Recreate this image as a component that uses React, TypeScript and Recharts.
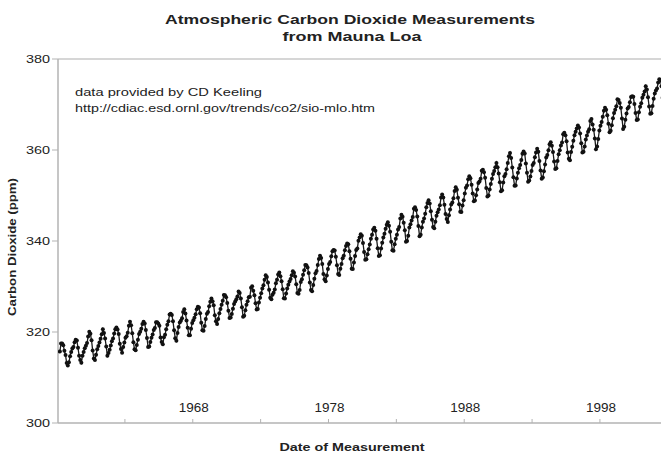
import React from 'react';
import { LineChart, Line, XAxis, YAxis, ReferenceLine } from 'recharts';

const TITLE_LINES = ['Atmospheric Carbon Dioxide Measurements', 'from Mauna Loa'];
const NOTE_LINES = ['data provided by CD Keeling', 'http://cdiac.esd.ornl.gov/trends/co2/sio-mlo.htm'];
const X_LABEL = 'Date of Measurement';
const Y_LABEL = 'Carbon Dioxide (ppm)';
const X_TICKS = [1963, 1968, 1973, 1978, 1983, 1988, 1993, 1998];
const X_TICK_LABELS = [1968, 1978, 1988, 1998];
const Y_TICKS = [300, 320, 340, 360, 380];
const X_DOMAIN: [number, number] = [1958.07, 2002.5];
const Y_DOMAIN: [number, number] = [300, 380];

// monthly values, starting March 1958
const FIRST_YEAR = 1958;
const FIRST_MONTH = 3;
const CO2_PPM = [
  315.71, 317.45, 317.5, 317.1, 315.86, 314.93, 313.2, 312.66, 313.33, 314.67,
  315.62, 316.38, 316.71, 317.72, 318.29, 318.15, 316.54, 314.8, 313.84, 313.26, 314.8, 315.58,
  316.43, 316.97, 317.58, 319.02, 320.03, 319.59, 318.18, 315.91, 314.16, 313.83, 315.0, 316.19,
  316.93, 317.7, 318.54, 319.48, 320.58, 319.77, 318.57, 316.79, 314.8, 315.38, 316.1, 317.01,
  317.94, 318.56, 319.68, 320.63, 321.01, 320.55, 319.58, 317.4, 316.26, 315.42, 316.69, 317.69,
  318.74, 319.08, 319.86, 321.39, 322.25, 321.47, 319.74, 317.77, 316.21, 315.99, 317.12, 318.31,
  319.57, 320.07, 320.73, 321.77, 322.25, 321.89, 320.44, 318.7, 316.7, 316.79, 317.79, 318.71,
  319.44, 320.44, 320.89, 322.13, 322.16, 321.87, 321.39, 318.81, 317.81, 317.3, 318.87, 319.42,
  320.62, 321.59, 322.39, 323.87, 324.01, 323.75, 322.39, 320.37, 318.64, 318.1, 319.79, 321.08,
  322.07, 322.5, 323.04, 324.42, 325.0, 324.09, 322.55, 320.92, 319.31, 319.31, 320.72, 321.96,
  322.57, 323.15, 323.89, 325.02, 325.57, 325.36, 324.14, 322.03, 320.41, 320.25, 321.31, 322.84,
  324.0, 324.42, 325.64, 326.66, 327.34, 326.76, 325.88, 323.67, 322.38, 321.78, 322.85, 324.11,
  325.03, 325.99, 326.87, 328.13, 328.07, 327.66, 326.35, 324.69, 323.1, 323.16, 323.98, 325.13,
  326.17, 326.68, 327.18, 327.78, 328.92, 328.57, 327.34, 325.46, 323.36, 323.57, 324.8, 326.01,
  326.77, 327.63, 327.75, 329.72, 330.07, 329.09, 328.05, 326.32, 324.93, 325.06, 326.5, 327.55,
  328.54, 329.56, 330.3, 331.5, 332.48, 332.07, 330.87, 329.31, 327.51, 327.18, 328.16, 328.64,
  329.35, 330.71, 331.48, 332.65, 333.09, 332.25, 331.18, 329.4, 327.44, 327.37, 328.46, 329.58,
  330.4, 331.11, 331.63, 332.46, 333.36, 333.04, 332.2, 330.49, 328.58, 328.41, 329.25, 330.97,
  331.6, 332.6, 333.57, 334.72, 334.68, 334.17, 332.96, 330.88, 329.23, 328.94, 330.31, 331.68,
  332.93, 333.42, 334.7, 336.07, 336.74, 336.27, 334.93, 332.75, 331.58, 331.16, 332.4, 333.85,
  334.97, 335.39, 336.64, 337.76, 338.01, 337.89, 336.54, 334.68, 332.76, 332.54, 333.92, 334.95,
  336.23, 336.76, 337.96, 338.89, 339.47, 339.29, 337.73, 336.09, 333.91, 333.86, 335.29, 336.73,
  338.01, 338.36, 340.08, 340.77, 341.46, 341.17, 339.56, 337.6, 335.88, 336.01, 337.1, 338.21,
  339.24, 340.48, 341.38, 342.51, 342.91, 342.25, 340.49, 338.43, 336.69, 336.85, 338.36, 339.61,
  340.75, 341.61, 342.7, 343.56, 344.13, 343.35, 342.06, 339.82, 337.97, 337.86, 339.26, 340.49,
  341.38, 342.52, 343.1, 344.94, 345.75, 345.32, 343.99, 342.39, 339.86, 339.99, 341.16, 342.99,
  343.7, 344.51, 345.28, 347.08, 347.43, 346.79, 345.4, 343.28, 341.07, 341.35, 342.98, 344.22,
  344.97, 345.99, 347.42, 348.35, 348.93, 348.25, 346.56, 344.67, 343.09, 342.8, 344.24, 345.56,
  346.3, 346.95, 347.85, 349.55, 350.21, 349.54, 347.94, 345.91, 344.86, 344.17, 345.66, 346.9,
  348.02, 348.47, 349.42, 350.99, 351.84, 351.25, 349.52, 348.1, 346.44, 346.36, 347.81, 348.96,
  350.43, 351.72, 352.22, 353.59, 354.22, 353.79, 352.39, 350.44, 348.72, 348.88, 350.07, 351.34,
  352.76, 353.07, 353.68, 355.42, 355.67, 355.13, 353.9, 351.67, 349.8, 349.99, 351.3, 352.53,
  353.66, 354.7, 355.39, 356.2, 357.16, 356.22, 354.82, 352.91, 350.96, 351.18, 352.83, 354.21,
  354.72, 355.75, 357.16, 358.6, 359.34, 358.24, 356.17, 354.03, 352.16, 352.21, 353.75, 354.99,
  355.98, 356.72, 357.81, 359.15, 359.66, 359.25, 357.03, 355.0, 353.01, 353.31, 354.16, 355.4,
  356.7, 357.16, 358.38, 359.46, 360.28, 359.6, 357.57, 355.52, 353.7, 353.98, 355.33, 356.8,
  358.36, 358.91, 359.97, 361.26, 361.68, 360.95, 359.55, 357.49, 355.84, 355.99, 357.58, 359.04,
  359.96, 361.0, 361.64, 363.45, 363.79, 363.26, 361.9, 359.46, 358.06, 357.75, 359.56, 360.7,
  362.05, 363.25, 364.03, 364.72, 365.41, 364.97, 363.65, 361.49, 359.46, 359.6, 360.76, 362.33,
  363.18, 364.0, 364.57, 366.35, 366.79, 365.62, 364.47, 362.51, 360.19, 360.77, 362.43, 364.28,
  365.32, 366.15, 367.31, 368.61, 369.29, 368.87, 367.64, 365.77, 363.9, 364.23, 365.46, 366.97,
  368.15, 368.87, 369.59, 371.14, 371.0, 370.35, 369.27, 366.94, 364.63, 365.12, 366.67, 368.01,
  369.14, 369.46, 370.52, 371.66, 371.82, 371.7, 370.12, 368.12, 366.62, 366.73, 368.29, 369.53,
  370.28, 371.5, 372.12, 372.87, 374.02, 373.3, 371.62, 369.55, 367.96, 368.09, 369.68, 371.24,
  372.44, 373.08, 373.52, 374.85, 375.55, 375.4, 374.02, 371.49, 370.71, 370.25, 372.08, 373.78,
];

const data = CO2_PPM.map((v, i) => ({
  date: FIRST_YEAR + (FIRST_MONTH - 1 + i + 0.5) / 12,
  co2: v,
}));

const FONT = '"Liberation Sans", Arial, Helvetica, sans-serif';
const AXIS_GRAY = '#b3b3b3';
const TEXT = '#222';

const XTick = (props: any) => {
  const { x, y, payload } = props;
  const show = X_TICK_LABELS.includes(payload.value);
  return (
    <g>
      <line x1={x} x2={x} y1={y} y2={y - 4} stroke={AXIS_GRAY} strokeWidth={1} />
      {show && (
        <text x={x + 1} y={y - 11} textAnchor="middle" fontFamily={FONT} fontSize={12}
          fill={TEXT} textLength={30} lengthAdjust="spacingAndGlyphs">
          {payload.value}
        </text>
      )}
    </g>
  );
};

const YTick = (props: any) => {
  const { x, y, payload } = props;
  return (
    <g>
      <line x1={x - 6} x2={x} y1={y} y2={y} stroke={AXIS_GRAY} strokeWidth={1} />
      <text x={x - 8} y={y + 4} textAnchor="end" fontFamily={FONT} fontSize={11}
        fill={TEXT} textLength={24} lengthAdjust="spacingAndGlyphs">
        {payload.value}
      </text>
    </g>
  );
};

export default function App() {
  return (
    <div style={{ position: 'absolute', left: 0, top: 0, width: 661, height: 454, background: '#fff' }}>
      <LineChart width={661} height={454} data={data} margin={{ top: 59, right: 0, bottom: 0, left: 0 }}>
        <ReferenceLine y={380} stroke="#d6d6d6" strokeWidth={2} />
        <XAxis dataKey="date" type="number" domain={X_DOMAIN} allowDataOverflow ticks={X_TICKS}
          height={31} tickSize={0} tickMargin={0} tickLine={false}
          axisLine={{ stroke: AXIS_GRAY, strokeWidth: 1.5 }} tick={<XTick />} interval={0} />
        <YAxis type="number" domain={Y_DOMAIN} ticks={Y_TICKS} width={58} tickSize={0} tickMargin={0}
          tickLine={false} axisLine={{ stroke: AXIS_GRAY, strokeWidth: 1.5 }} tick={<YTick />} interval={0} />
        <Line type="linear" dataKey="co2" stroke="#1a1a1a" strokeWidth={1.3}
          dot={{ r: 2, fill: '#111', stroke: 'none' }} isAnimationActive={false} />
      </LineChart>
      <svg width={661} height={454} style={{ position: 'absolute', left: 0, top: 0, pointerEvents: 'none' }}>
        <text x={350} y={24} textAnchor="middle" fontFamily={FONT} fontWeight="bold" fontSize={13.5}
          fill={TEXT} textLength={370} lengthAdjust="spacingAndGlyphs">{TITLE_LINES[0]}</text>
        <text x={352} y={41} textAnchor="middle" fontFamily={FONT} fontWeight="bold" fontSize={13.5}
          fill={TEXT} textLength={139} lengthAdjust="spacingAndGlyphs">{TITLE_LINES[1]}</text>
        <text x={75} y={96} fontFamily={FONT} fontSize={11} fill={TEXT}
          textLength={187} lengthAdjust="spacingAndGlyphs">{NOTE_LINES[0]}</text>
        <text x={75} y={112} fontFamily={FONT} fontSize={11} fill={TEXT}
          textLength={300} lengthAdjust="spacingAndGlyphs">{NOTE_LINES[1]}</text>
        <text x={352} y={451} textAnchor="middle" fontFamily={FONT} fontWeight="bold" fontSize={11}
          fill={TEXT} textLength={145} lengthAdjust="spacingAndGlyphs">{X_LABEL}</text>
        <text x={0} y={0} transform="translate(16 247) rotate(-90)" textAnchor="middle" fontFamily={FONT}
          fontWeight="bold" fontSize={11} fill={TEXT} textLength={138} lengthAdjust="spacingAndGlyphs">{Y_LABEL}</text>
      </svg>
    </div>
  );
}
